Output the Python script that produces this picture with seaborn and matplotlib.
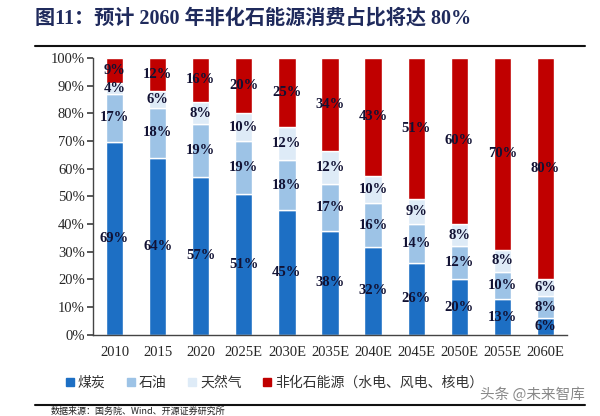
import numpy as np
import pandas as pd
import seaborn as sns
import matplotlib.pyplot as plt
from matplotlib.lines import Line2D

years = ["2010", "2015", "2020", "2025E", "2030E", "2035E", "2040E", "2045E", "2050E", "2055E", "2060E"]
coal = [69, 64, 57, 51, 45, 38, 32, 26, 20, 13, 6]
oil = [17, 18, 19, 19, 18, 17, 16, 14, 12, 10, 8]
gas = [4, 6, 8, 10, 12, 12, 10, 9, 8, 8, 6]
nonfossil = [9, 12, 16, 20, 25, 34, 43, 51, 60, 70, 80]
names = ["煤炭", "石油", "天然气", "非化石能源（水电、风电、核电）"]
colors = ["#1D6FC4", "#9DC3E6", "#DEEBF7", "#C00000"]

sns.set_theme(style="white")
plt.rcParams['font.family'] = ['Liberation Serif', 'Noto Sans CJK SC', 'DejaVu Sans']

df = pd.DataFrame({"year": years, "coal": coal, "oil": oil, "gas": gas, "nonfossil": nonfossil})
total = df[["coal", "oil", "gas", "nonfossil"]].sum(axis=1)

fig = plt.figure(figsize=(6, 4.16), dpi=100)
ax = fig.add_axes([0.155, 0.195, 0.79, 0.666])

bottom = np.zeros(len(df))
for col, c in zip(["coal", "oil", "gas", "nonfossil"], colors):
    share = df[col] / total * 100
    sns.barplot(x=df["year"], y=share, bottom=bottom, color=c, width=0.4,
                saturation=1, ax=ax, order=years)
    ax.bar_label(ax.containers[-1], labels=[f"{v}%" for v in df[col]],
                 label_type="center", fontsize=10.5, fontweight="bold", color="#111133")
    bottom = bottom + share.values

ax.set_ylim(0, 100)
ax.set_xlim(-0.5, 10.5)
ax.set_yticks(np.arange(0, 101, 10))
ax.set_yticklabels([f"{v}%" for v in range(0, 101, 10)], fontsize=10.5)
ax.set_xticks(range(len(years)))
ax.set_xticklabels(years, fontsize=10.5)
ax.set_xticks(np.arange(-0.5, 11, 1), minor=True)
ax.tick_params(axis="x", which="major", length=0, pad=8)
ax.tick_params(axis="x", which="minor", length=4, direction="in", color="#444444")
ax.tick_params(axis="y", length=4, direction="out", color="#444444", left=True, pad=2)
ax.set_xlabel("")
ax.set_ylabel("")
for s in ["top", "right"]:
    ax.spines[s].set_visible(False)
for s in ["left", "bottom"]:
    ax.spines[s].set_color("#444444")
    ax.spines[s].set_linewidth(1)

handles = [Line2D([], [], marker="s", linestyle="", markersize=6, color=c) for c in colors]
fig.legend(handles, names, loc="center", bbox_to_anchor=(0.455, 0.08), ncol=4, frameon=False,
           handletextpad=0.1, columnspacing=1.3, handlelength=1.0, labelcolor="#333333",
           prop={"family": ["Noto Sans CJK SC"], "size": 10})

fig.text(0.058, 0.955, "图11：预计 2060 年非化石能源消费占比将达 80%", fontsize=14.5,
         fontweight="bold", color="#1F2A5C", ha="left", va="center",
         family=["Liberation Serif", "Noto Sans CJK SC"])
fig.add_artist(Line2D([0.058, 0.975], [0.89, 0.89], color="#111111", lw=1.5))
fig.add_artist(Line2D([0.058, 0.975], [0.026, 0.026], color="#111111", lw=1.5))
fig.text(0.085, 0.001, "数据来源：国务院、Wind、开源证券研究所", fontsize=6.5, ha="left", va="bottom",
         family=["Noto Sans CJK SC"], color="#222222")
fig.text(0.975, 0.052, "头条 @未来智库", fontsize=10.5, ha="right", va="center",
         family=["Noto Sans CJK SC"], color="#888888")

fig.savefig("out.png", dpi=100)
